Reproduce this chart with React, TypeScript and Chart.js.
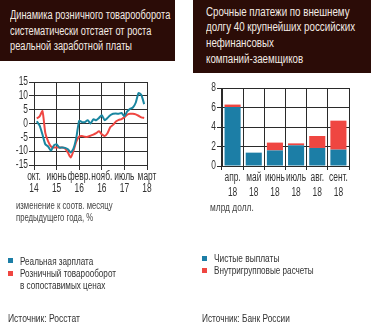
import React, { useEffect, useRef } from 'react';
import { Chart, registerables } from 'chart.js';

Chart.register(...registerables);

// ---------- data: left chart (monthly, index 0 = Oct 2014) ----------
const monthIndex: number[] = Array.from({ length: 41 }, (_, i) => i);
const xTickIdx: number[] = [0, 8, 16, 24, 32, 40];
const xTickLabels: string[][] = [
  ['окт.', '14'],
  ['июнь', '15'],
  ['февр.', '16'],
  ['нояб.', '16'],
  ['июль', '17'],
  ['март', '18'],
];
const realWage: (number | null)[] = [
  null, 0.8, -0.8, -4, -7.5, -8.3, -9.8, -8, -7.5, -8.7, -8.7, -8.8, -9.3, -10.5, -9,
  -5, 1, 0.5, 0.5, 1.2, 0, 1.5, 1.2, 2, 3, 1.2, 2, 3, 3.5, 3.6, 3.5, 3.8, 2.6, 4.4,
  5.3, 5.8, 7.5, 11, 10.3, 7, null,
];
const retailTurnover: (number | null)[] = [
  null, 1.8, 2.6, 4.5, -3.4, -6.5, -8.3, -8.7, -8.7, -8.7, -8.7, -9, -10.5, -12.3, -9.8,
  -6.5, -4.7, -4.5, -4.8, -4.8, -4.4, -4, -3.5, -2.8, -3.9, -4.5, -3.5, -1.3, -0.5, 0.7,
  1.3, 1.6, 2.3, 3.2, 3.5, 3.5, 3.3, 2.8, 2.2, 2, null,
];

// ---------- data: right chart ----------
const barMonths: string[] = ['апр', 'май', 'июнь', 'июль', 'авг', 'сент'];
const barTickLabels: string[][] = [
  ['апр.', '18'],
  ['май', '18'],
  ['июнь', '18'],
  ['июль', '18'],
  ['авг.', '18'],
  ['сент.', '18'],
];
const netPayments: number[] = [6.05, 1.37, 1.6, 2.12, 1.85, 1.68];
const intragroup: number[] = [0.25, 0, 0.8, 0.2, 1.23, 2.97];

// ---------- styles ----------
const BLUE_LINE = '#1a86a0';
const BLUE_BAR = '#1c7ea6';
const RED = '#ef4641';
const GRID_L = '#2e2e2e';
const GRID_R = '#2a2a2a';
const TXT = '#333333';
const TITLE_BG = '#2b0c07';
const TITLE_TXT = '#f3ebe4';
const FONT = "'Liberation Sans', Arial, sans-serif";
const CANVAS_SX = 0.7;

// condense canvas text horizontally (Chart.js tick labels)
function condense(canvas: HTMLCanvasElement) {
  const ctx = canvas.getContext('2d') as any;
  if (!ctx || ctx.__condensed) return;
  const orig = ctx.fillText;
  ctx.fillText = function (text: string, x: number, y: number) {
    this.save();
    this.translate(x, y);
    this.scale(CANVAS_SX, 1);
    orig.call(this, text, 0, 0);
    this.restore();
  };
  ctx.__condensed = true;
}

function Txt(props: {
  x: number; cy: number; size: number; color?: string; scale?: number; children: React.ReactNode;
}) {
  const { x, cy, size, color = TXT, scale = 0.74, children } = props;
  const lh = Math.round(size * 1.2);
  return (
    <div
      style={{
        position: 'absolute', left: x, top: cy - lh / 2, height: lh, lineHeight: `${lh}px`,
        fontFamily: FONT, fontSize: size, color, whiteSpace: 'nowrap',
        transform: `scaleX(${scale})`, transformOrigin: 'left center',
      }}
    >
      {children}
    </div>
  );
}

function Square(props: { x: number; y: number; color: string }) {
  return (
    <div style={{ position: 'absolute', left: props.x, top: props.y, width: 5, height: 5, background: props.color }} />
  );
}

function LineChart() {
  const ref = useRef<HTMLCanvasElement | null>(null);
  useEffect(() => {
    if (!ref.current) return;
    condense(ref.current);
    const chart = new Chart(ref.current, {
      type: 'bar',
      data: {
        datasets: [
          {
            type: 'line',
            label: 'Реальная зарплата',
            data: monthIndex.map((m, i) => ({ x: m, y: realWage[i] })),
            borderColor: BLUE_LINE, borderWidth: 2, pointRadius: 0, tension: 0.2,
          } as any,
          {
            type: 'line',
            label: 'Розничный товарооборот в сопоставимых ценах',
            data: monthIndex.map((m, i) => ({ x: m, y: retailTurnover[i] })),
            borderColor: RED, borderWidth: 2, pointRadius: 0, tension: 0.2,
          } as any,
        ],
      },
      options: {
        animation: false, responsive: false, devicePixelRatio: 1,
        layout: { padding: { top: 10, right: 18, left: 0, bottom: 0 } },
        plugins: { legend: { display: false }, tooltip: { enabled: false } },
        scales: {
          x: {
            type: 'linear', min: 0, max: 40, offset: false,
            grid: { color: GRID_L, tickLength: 5, lineWidth: 1, offset: false },
            border: { display: true, color: GRID_L },
            ticks: {
              stepSize: 8, autoSkip: false, maxRotation: 0, minRotation: 0, padding: 1, color: TXT,
              font: { family: FONT, size: 12, lineHeight: 1.0 },
              callback: (v: any) => {
                const k = xTickIdx.indexOf(Number(v));
                return k >= 0 ? xTickLabels[k] : '';
              },
            },
            afterFit: (s: any) => { s.height = 35; },
          },
          y: {
            min: -15, max: 15,
            grid: { color: GRID_L, tickLength: 5, lineWidth: 1 },
            border: { display: true, color: GRID_L },
            ticks: { stepSize: 5, autoSkip: false, padding: 1, color: TXT, font: { family: FONT, size: 12 } },
            afterFit: (s: any) => { s.width = 34; },
          },
        },
      },
    });
    return () => chart.destroy();
  }, []);
  return <canvas ref={ref} width={165} height={128} style={{ position: 'absolute', left: 0, top: 72 }} />;
}

function BarChart() {
  const ref = useRef<HTMLCanvasElement | null>(null);
  useEffect(() => {
    if (!ref.current) return;
    condense(ref.current);
    const chart = new Chart(ref.current, {
      type: 'bar',
      data: {
        labels: barMonths,
        datasets: [
          { label: 'Чистые выплаты', data: netPayments, backgroundColor: BLUE_BAR, barPercentage: 0.76, categoryPercentage: 1 },
          { label: 'Внутригрупповые расчеты', data: intragroup, backgroundColor: RED, barPercentage: 0.76, categoryPercentage: 1 },
        ],
      },
      options: {
        animation: false, responsive: false, devicePixelRatio: 1,
        layout: { padding: { top: 10, right: 16, left: 0, bottom: 0 } },
        plugins: { legend: { display: false }, tooltip: { enabled: false } },
        scales: {
          x: {
            stacked: true,
            grid: { color: GRID_R, tickLength: 4, lineWidth: 1, offset: true },
            border: { display: true, color: GRID_R },
            ticks: {
              autoSkip: false, maxRotation: 0, minRotation: 0, padding: 0, color: TXT,
              font: { family: FONT, size: 12, lineHeight: 1.25 },
              callback: (_v: any, i: number) => barTickLabels[i],
            },
            afterFit: (s: any) => { s.height = 42; },
          },
          y: {
            stacked: true, min: 0, max: 8,
            grid: { color: GRID_R, tickLength: 5, lineWidth: 1 },
            border: { display: true, color: GRID_R },
            ticks: { stepSize: 2, autoSkip: false, padding: 1, color: TXT, font: { family: FONT, size: 12 } },
            afterFit: (s: any) => { s.width = 37; },
          },
        },
      },
    });
    return () => chart.destroy();
  }, []);
  return <canvas ref={ref} width={180} height={130} style={{ position: 'absolute', left: 185, top: 78 }} />;
}

export default function App() {
  return (
    <div style={{ position: 'absolute', left: 0, top: 0, width: 371, height: 325, background: '#fff', overflow: 'hidden' }}>
      {/* left title */}
      <div style={{ position: 'absolute', left: 0, top: 0, width: 175, height: 61, background: TITLE_BG }} />
      <Txt x={10} cy={15.3} size={12.5} scale={0.74} color={TITLE_TXT}>Динамика розничного товарооборота</Txt>
      <Txt x={10} cy={31.2} size={12.5} scale={0.74} color={TITLE_TXT}>систематически отстает от роста</Txt>
      <Txt x={10} cy={46.7} size={12.5} scale={0.74} color={TITLE_TXT}>реальной заработной платы</Txt>

      {/* right title */}
      <div style={{ position: 'absolute', left: 193, top: 0, width: 178, height: 73, background: TITLE_BG }} />
      <Txt x={206} cy={12.7} size={12.5} scale={0.78} color={TITLE_TXT}>Срочные платежи по внешнему</Txt>
      <Txt x={206} cy={27.9} size={12.5} scale={0.78} color={TITLE_TXT}>долгу 40 крупнейших российских</Txt>
      <Txt x={206} cy={43} size={12.5} scale={0.78} color={TITLE_TXT}>нефинансовых</Txt>
      <Txt x={206} cy={59.3} size={12.5} scale={0.78} color={TITLE_TXT}>компаний-заемщиков</Txt>

      <LineChart />
      <BarChart />

      {/* left notes & legend */}
      <Txt x={16} cy={205} size={11} scale={0.7} color="#444">изменение к соотв. месяцу</Txt>
      <Txt x={16} cy={217} size={11} scale={0.7} color="#444">предыдущего года, %</Txt>
      <Square x={8} y={258} color={BLUE_BAR} />
      <Txt x={20} cy={261} size={11} scale={0.74}>Реальная зарплата</Txt>
      <Square x={8} y={271} color={RED} />
      <Txt x={20} cy={273} size={11} scale={0.74}>Розничный товарооборот</Txt>
      <Txt x={20} cy={285} size={11} scale={0.74}>в сопоставимых ценах</Txt>
      <Txt x={8} cy={318} size={11.5} scale={0.74}>Источник: Росстат</Txt>

      {/* right notes & legend */}
      <Txt x={210} cy={207} size={11} scale={0.76} color="#444">млрд долл.</Txt>
      <Square x={202} y={256} color={BLUE_BAR} />
      <Txt x={214} cy={258.5} size={11} scale={0.76}>Чистые выплаты</Txt>
      <Square x={202} y={268} color={RED} />
      <Txt x={214} cy={270.7} size={11} scale={0.74}>Внутригрупповые расчеты</Txt>
      <Txt x={202} cy={318} size={11.5} scale={0.72}>Источник: Банк России</Txt>
    </div>
  );
}
